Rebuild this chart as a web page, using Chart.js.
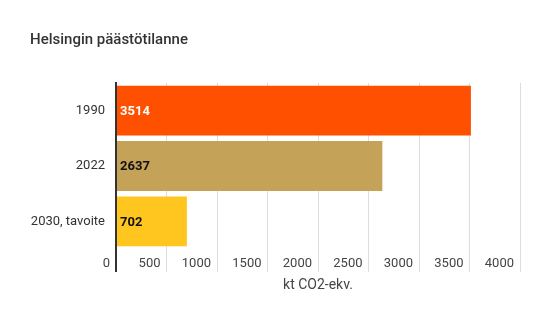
<!DOCTYPE html>
<html>
<head>
<meta charset="utf-8">
<script src="https://cdn.jsdelivr.net/npm/chart.js@4/dist/chart.umd.min.js"></script>
<style>
  html, body { margin: 0; padding: 0; background: #fff; }
  #wrap { width: 550px; height: 329px; }
</style>
</head>
<body>
<div id="wrap"><canvas id="chart"></canvas></div>
<script>
const categories = ["1990", "2022", "2030, tavoite"];
const emissions = [3514, 2637, 702];
const barColors = ["#ff5000", "#c4a257", "#ffc620"];
const valueColors = ["#ffffff", "#111111", "#111111"];
const xTicks = [0, 500, 1000, 1500, 2000, 2500, 3000, 3500, 4000];

const FONT = "Roboto, 'Noto Sans', sans-serif";

// value printed at the start of each bar
const barValues = {
  id: "barValues",
  afterDatasetsDraw(chart) {
    const ctx = chart.ctx;
    const meta = chart.getDatasetMeta(0);
    ctx.save();
    ctx.font = `bold 13px ${FONT}`;
    ctx.textAlign = "left";
    ctx.textBaseline = "middle";
    meta.data.forEach((bar, i) => {
      ctx.fillStyle = valueColors[i];
      ctx.fillText(String(emissions[i]), bar.base + 3, bar.y + 1);
    });
    ctx.restore();
  },
};

new Chart(document.getElementById("chart"), {
  type: "bar",
  data: {
    labels: categories,
    datasets: [{
      data: emissions,
      backgroundColor: barColors,
      categoryPercentage: 1,
      barPercentage: 0.9,
    }],
  },
  options: {
    indexAxis: "y",
    responsive: true,
    maintainAspectRatio: false,
    animation: false,
    layout: { padding: { left: 30, right: 30, top: 0, bottom: 35 } },
    plugins: {
      legend: { display: false },
      tooltip: { enabled: false },
      title: {
        display: true,
        text: "Helsingin päästötilanne",
        align: "start",
        color: "#333333",
        font: { family: FONT, size: 15, weight: "500" },
        padding: { top: 31, bottom: 34 },
      },
    },
    scales: {
      x: {
        min: 0,
        max: 4000,
        afterBuildTicks: (scale) => { scale.ticks = xTicks.map((v) => ({ value: v })); },
        afterFit: (scale) => { scale.height = 45; },
        border: { display: false },
        grid: {
          color: (c) => (c.index === 0 ? "#333333" : "#dddddd"),
          lineWidth: (c) => (c.index === 0 ? 2 : 1),
          tickLength: 23,
        },
        ticks: {
          align: "end",
          labelOffset: -6,
          padding: -16.5,
          color: "#444444",
          font: { family: FONT, size: 13 },
          callback: (v) => String(v),
        },
        title: {
          display: true,
          text: "kt CO2-ekv.",
          color: "#444444",
          font: { family: FONT, size: 14 },
          padding: { top: 0, bottom: 0 },
        },
      },
      y: {
        afterFit: (scale) => { scale.width = 86; },
        grid: { display: false, drawTicks: false },
        border: { display: true, color: "#333333", width: 2 },
        ticks: {
          padding: 11,
          color: "#333333",
          font: { family: FONT, size: 13 },
        },
      },
    },
  },
  plugins: [barValues],
});
</script>
</body>
</html>
